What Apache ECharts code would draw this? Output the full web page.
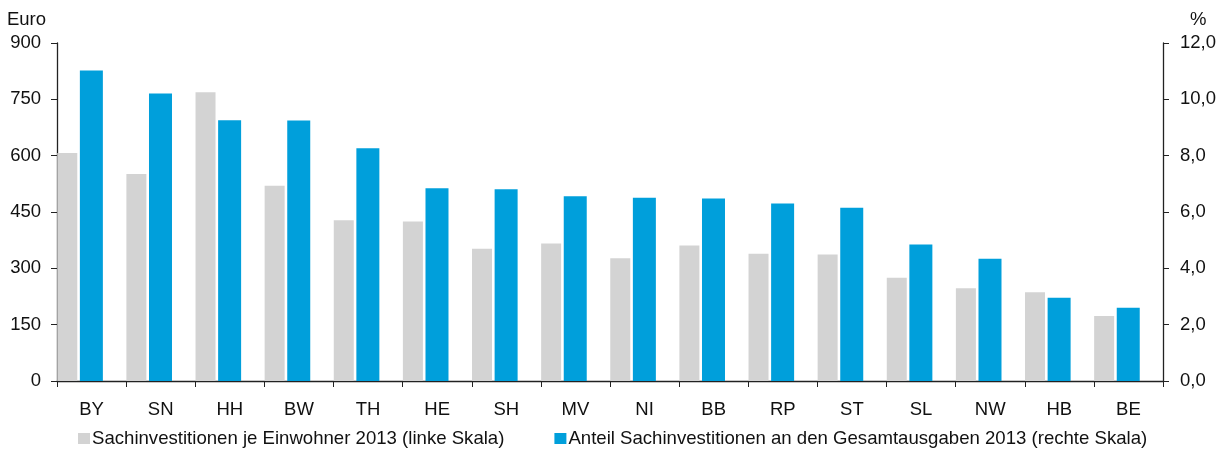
<!DOCTYPE html>
<html>
<head>
<meta charset="utf-8">
<script src="https://cdn.jsdelivr.net/npm/echarts@6/dist/echarts.min.js"></script>
<style>
  html, body { margin: 0; padding: 0; background: #fff; }
  #main { width: 1223px; height: 453px; }
</style>
</head>
<body>
<div id="main"></div>
<script>
var laender = ['BY', 'SN', 'HH', 'BW', 'TH', 'HE', 'SH', 'MV', 'NI', 'BB', 'RP', 'ST', 'SL', 'NW', 'HB', 'BE'];
// Euro je Einwohner (linke Skala)
var proKopf = [607, 551, 769, 520, 428, 425, 352, 366, 327, 361, 339, 337, 275, 247, 236, 173];
// Anteil in % (rechte Skala)
var anteil = [11.02, 10.21, 9.26, 9.25, 8.26, 6.84, 6.81, 6.56, 6.51, 6.48, 6.30, 6.15, 4.85, 4.34, 2.96, 2.60];
var nameGrau = 'Sachinvestitionen je Einwohner 2013 (linke Skala)';
var nameBlau = 'Anteil Sachinvestitionen an den Gesamtausgaben 2013 (rechte Skala)';

var chart = echarts.init(document.getElementById('main'));
var schrift = 'Liberation Sans, Arial, sans-serif';
var achse = { lineStyle: { color: '#222', width: 1.3 } };

var option = {
  animation: false,
  textStyle: { fontFamily: schrift },
  grid: { left: 57, right: 60, top: 43, bottom: 72 },
  legend: {
    data: [nameGrau, nameBlau],
    bottom: 0,
    left: 73,
    itemWidth: 12,
    itemHeight: 11,
    itemGap: 50,
    icon: 'rect',
    textStyle: { fontSize: 18.6, color: '#111', padding: [0, 0, 0, -3] }
  },
  xAxis: {
    type: 'category',
    data: laender,
    axisLine: achse,
    axisTick: { show: true, length: 6, lineStyle: { color: '#222' } },
    axisLabel: { fontSize: 18.5, color: '#111', margin: 19 }
  },
  yAxis: [{
    type: 'value',
    min: 0,
    max: 900,
    interval: 150,
    name: 'Euro',
    nameLocation: 'end',
    nameGap: 14,
    nameTextStyle: { fontSize: 18.5, color: '#111', align: 'right', padding: [0, 11, 0, 0] },
    axisLine: { show: true, lineStyle: { color: '#222', width: 1.3 } },
    axisTick: { show: true, length: 6, lineStyle: { color: '#222' } },
    axisLabel: { fontSize: 18.5, color: '#111', margin: 16 },
    splitLine: { show: false }
  }, {
    type: 'value',
    min: 0,
    max: 12,
    interval: 2,
    name: '%',
    nameLocation: 'end',
    nameGap: 14,
    nameTextStyle: { fontSize: 18.5, color: '#111', align: 'left', padding: [0, 0, 0, 27] },
    axisLine: { show: true, lineStyle: { color: '#222', width: 1.3 } },
    axisTick: { show: true, length: 6, lineStyle: { color: '#222' } },
    axisLabel: {
      fontSize: 18.5, color: '#111', margin: 17,
      formatter: function (v) { return v.toFixed(1).replace('.', ','); }
    },
    splitLine: { show: false }
  }],
  series: [{
    name: nameGrau,
    type: 'bar',
    yAxisIndex: 0,
    data: proKopf,
    barWidth: 20,
    barGap: '13%',
    itemStyle: { color: '#d3d3d3' }
  }, {
    name: nameBlau,
    type: 'bar',
    yAxisIndex: 1,
    data: anteil,
    barWidth: 23,
    itemStyle: { color: '#009fdb' }
  }, {
    // leere Spalte, damit die Balken links in der Kategorie sitzen
    name: 'leer',
    type: 'bar',
    yAxisIndex: 0,
    data: [],
    barWidth: 20,
    silent: true
  }]
};
chart.setOption(option);
</script>
</body>
</html>
